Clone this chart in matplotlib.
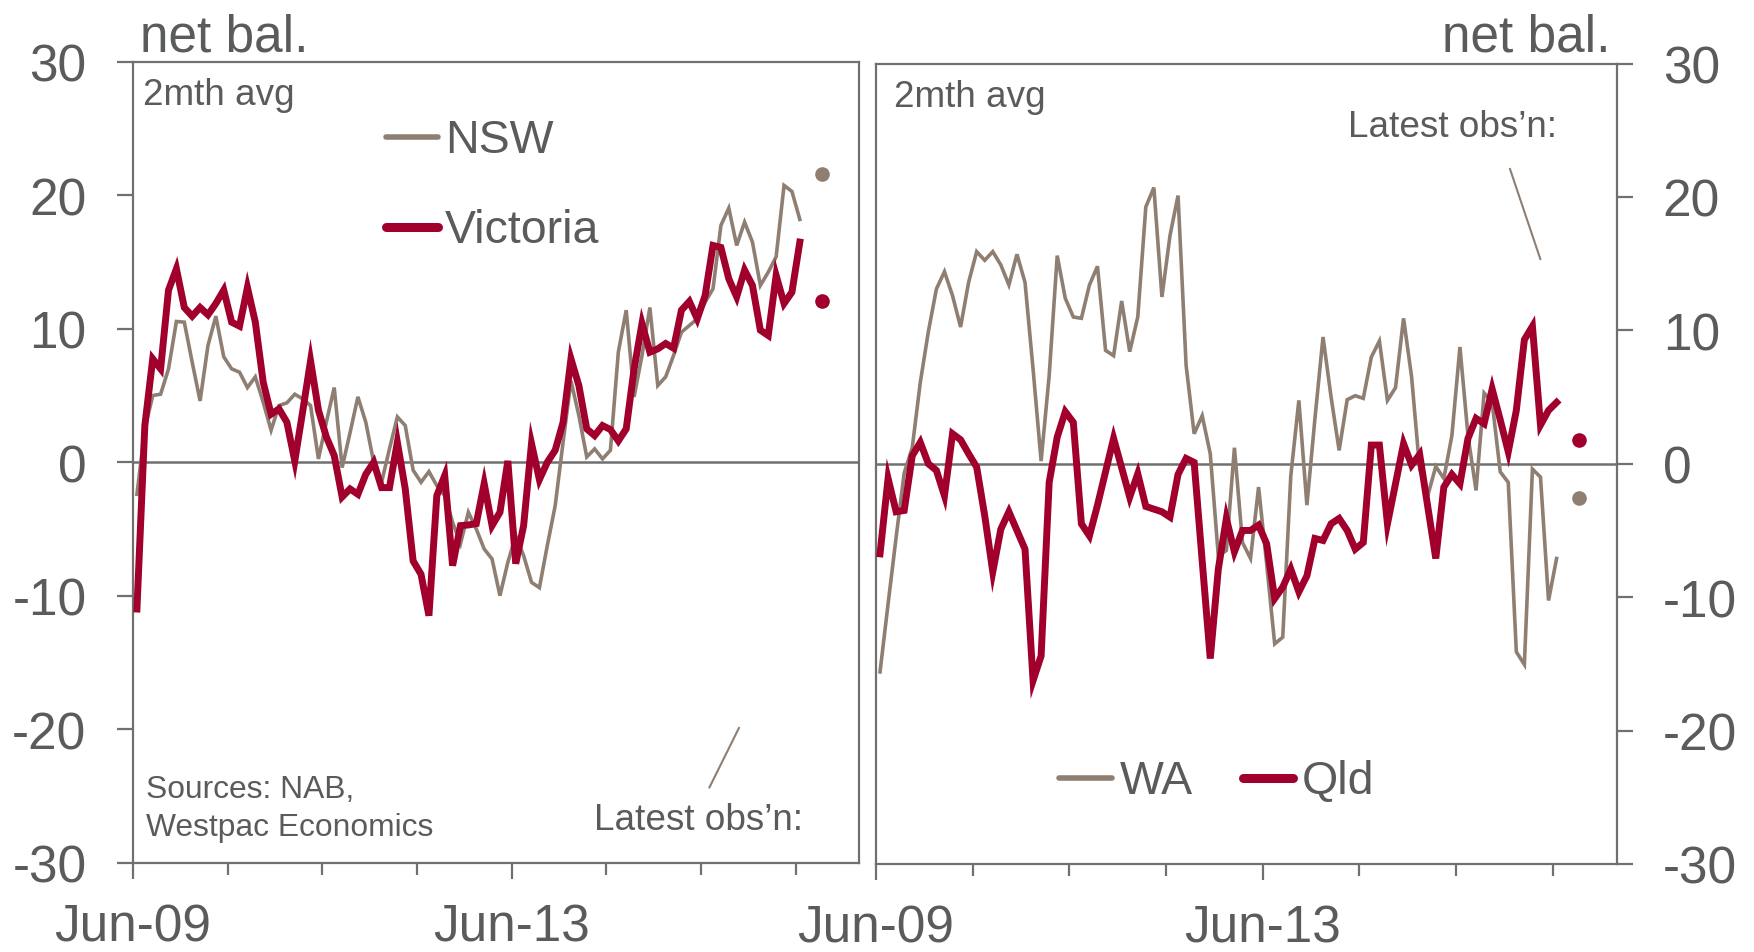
import matplotlib
matplotlib.use("Agg")
import matplotlib.pyplot as plt
from matplotlib.ticker import FixedLocator
import numpy as np

plt.rcParams['font.family'] = ['Liberation Sans', 'DejaVu Sans']
plt.rcParams['axes.unicode_minus'] = False

# ---------------- data (net balance, 2mth avg, monthly from Jun-09) ----------------
NSW = [-2.4, 2.5, 5.0, 5.1, 7.0, 10.55, 10.5, 7.5, 4.6, 8.75,
       10.95, 7.9, 7.0, 6.75, 5.6, 6.4, 4.5, 2.4, 4.25, 4.45,
       5.1, 4.75, 4.25, 0.25, 3.0, 5.6, -0.4, 2.2, 4.9, 3.0,
       0.0, -1.5, 1.0, 3.4, 2.75, -0.6, -1.5, -0.7, -1.75, -2.5,
       -4.5, -6.1, -3.75, -5.0, -6.5, -7.25, -10.0, -7.5, -5.5, -7.0,
       -9.0, -9.4, -6.25, -3.25, 1.5, 6.1, 3.5, 0.4, 1.0, 0.25,
       0.9, 8.25, 11.4, 4.9, 8.0, 11.6, 5.75, 6.4, 8.0, 9.75,
       10.25, 10.75, 12.0, 13.0, 17.75, 19.05, 16.25, 18.0, 16.5, 13.25,
       14.25, 15.4, 20.75, 20.3, 18.2]
VIC = [-11.0, 2.75, 7.75, 7.0, 12.9, 14.5, 11.6, 10.95, 11.6, 11.05,
       11.9, 12.9, 10.5, 10.2, 13.1, 10.5, 6.0, 3.6, 4.0, 3.0,
       0.1, 3.8, 7.6, 3.9, 1.9, 0.5, -2.6, -2.0, -2.4, -0.9,
       0.0, -1.9, -1.9, 1.5, -2.0, -7.4, -8.4, -11.5, -2.5, -1.0,
       -7.75, -4.75, -4.7, -4.6, -1.6, -4.75, -3.75, 0.1, -7.6, -4.75,
       1.4, -1.3, 0.0, 0.9, 3.0, 7.75, 5.75, 2.5, 2.0, 2.75,
       2.45, 1.6, 2.5, 7.0, 10.4, 8.25, 8.5, 8.9, 8.55, 11.4,
       12.05, 10.75, 12.5, 16.25, 16.1, 13.75, 12.4, 14.4, 13.25, 9.9,
       9.5, 14.0, 11.9, 12.75, 16.5]
WA = [-15.6, -10.5, -5.5, -0.7, 1.2, 6.1, 9.9, 13.1, 14.4, 12.6,
      10.25, 13.6, 15.9, 15.25, 15.9, 14.9, 13.4, 15.7, 13.6, 7.1,
      0.2, 6.6, 15.6, 12.4, 11.0, 10.9, 13.4, 14.8, 8.5, 8.1,
      12.2, 8.4, 11.0, 19.25, 20.7, 12.5, 17.1, 20.1, 7.4, 2.25,
      3.6, 0.75, -6.9, -6.5, 1.2, -5.9, -7.1, -1.75, -7.5, -13.5,
      -13.0, -0.9, 4.75, -3.1, 3.4, 9.5, 5.0, 1.0, 4.8, 5.1,
      4.9, 8.0, 9.2, 4.75, 5.7, 10.9, 6.5, -0.4, -2.4, -0.2,
      -1.1, 2.1, 8.75, 2.1, -2.0, 5.3, 4.6, -0.6, -1.4, -14.1,
      -15.05, -0.4, -1.0, -10.25, -7.1]
QLD = [-6.75, -1.1, -3.6, -3.5, 0.6, 1.6, 0.0, -0.5, -2.4, 2.25,
       1.8, 0.75, -0.25, -3.9, -8.1, -4.9, -3.6, -5.0, -6.4, -16.25,
       -14.4, -1.4, 2.0, 3.9, 3.1, -4.5, -5.4, -3.1, -0.6, 1.9,
       -0.3, -2.5, -0.75, -3.2, -3.4, -3.6, -4.0, -0.8, 0.4, 0.1,
       -7.3, -14.6, -7.9, -4.1, -6.6, -5.0, -5.0, -4.6, -6.0, -10.1,
       -9.25, -7.9, -9.6, -8.4, -5.6, -5.75, -4.5, -4.1, -5.0, -6.4,
       -5.9, 1.4, 1.4, -4.5, -1.5, 1.5, -0.1, 0.7, -3.2, -7.1,
       -1.75, -0.8, -1.5, 1.9, 3.4, 3.0, 5.6, 3.3, 0.9, 4.0,
       9.3, 10.3, 2.9, 4.0, 4.6]
LATEST_NSW, LATEST_VIC = 21.6, 12.1
LATEST_WA, LATEST_QLD = -2.6, 1.75

X_TICK_LABELS = ['Jun-09', 'Jun-13']
X_MAJOR = [0, 48]
X_MINOR = [12, 24, 36, 60, 72, 84]
Y_TICKS = [-30, -20, -10, 0, 10, 20, 30]

# ---------------- style ----------------
TAN = '#8E7F72'
RED = '#A0002B'
TXT = '#5A5B5D'
AXC = '#707070'
W, H = 1754, 953

months = np.arange(len(NSW)) + 0.5
dot_x = months[-1] + 2.75

fig = plt.figure(figsize=(W / 100, H / 100), dpi=100)
axL = fig.add_axes([133 / W, (H - 863.5) / H, 726 / W, 800.5 / H])
axR = fig.add_axes([876 / W, (H - 865) / H, 741 / W, 800.5 / H])


def style(ax, side):
    ax.set_xlim(0, 92)
    ax.set_ylim(-30, 30)
    for s in ax.spines.values():
        s.set_color(AXC)
        s.set_linewidth(1.6)
    ax.axhline(0, color=AXC, lw=1.8, zorder=1)
    ax.xaxis.set_major_locator(FixedLocator(X_MAJOR))
    ax.set_xticklabels(X_TICK_LABELS)
    ax.xaxis.set_minor_locator(FixedLocator(X_MINOR))
    ax.tick_params(axis='x', which='major', direction='out', length=11.5,
                   width=1.6, color=AXC, pad=17, labelsize=37, labelcolor=TXT)
    ax.tick_params(axis='x', which='minor', direction='out', length=8.6,
                   width=1.6, color=AXC)
    ax.set_yticks(Y_TICKS)
    if side == 'left':
        ax.tick_params(axis='y', left=True, right=False, labelleft=True,
                       labelright=False, direction='out', length=11.5,
                       width=1.6, color=AXC, pad=22, labelsize=37,
                       labelcolor=TXT)
    else:
        ax.tick_params(axis='y', left=False, right=True, labelleft=False,
                       labelright=True, direction='out', length=11.5,
                       width=1.6, color=AXC, pad=21.5, labelsize=37,
                       labelcolor=TXT)


style(axL, 'left')
style(axR, 'right')

# ---------------- left panel ----------------
axL.plot(months, NSW, color=TAN, lw=2.6, zorder=3, solid_joinstyle='miter')
axL.plot(months, VIC, color=RED, lw=5.0, zorder=4, solid_joinstyle='miter')
axL.plot([dot_x], [LATEST_NSW], 'o', color=TAN, ms=9.5, zorder=5)
axL.plot([dot_x], [LATEST_VIC], 'o', color=RED, ms=9.5, zorder=5)

axL.text(0.0138, 0.9475, '2mth avg', transform=axL.transAxes, fontsize=26.6,
         color=TXT, va='baseline', ha='left')
axL.plot([0.3485, 0.4200], [0.9067, 0.9067], transform=axL.transAxes,
         color=TAN, lw=4, solid_capstyle='round')
axL.text(0.4298, 0.8872, 'NSW', transform=axL.transAxes, fontsize=33.5,
         color=TXT, va='baseline', ha='left')
axL.plot([0.3485, 0.4200], [0.7935, 0.7935], transform=axL.transAxes,
         color=RED, lw=6.5, solid_capstyle='round')
axL.text(0.4298, 0.7748, 'Victoria', transform=axL.transAxes, fontsize=33.5,
         color=TXT, va='baseline', ha='left')
axL.text(0.0173, 0.0818, 'Sources: NAB,', transform=axL.transAxes,
         fontsize=22.9, color=TXT, va='baseline', ha='left')
axL.text(0.0173, 0.0344, 'Westpac Economics', transform=axL.transAxes,
         fontsize=22.9, color=TXT, va='baseline', ha='left')
axL.text(0.635, 0.0418, 'Latest obs\u2019n:', transform=axL.transAxes,
         fontsize=26.6, color=TXT, va='baseline', ha='left')
axL.plot([0.794, 0.8346], [0.0938, 0.168], transform=axL.transAxes,
         color=TAN, lw=1.5)

# ---------------- right panel ----------------
axR.plot(months, WA, color=TAN, lw=2.6, zorder=3, solid_joinstyle='miter')
axR.plot(months, QLD, color=RED, lw=5.0, zorder=4, solid_joinstyle='miter')
axR.plot([dot_x], [LATEST_WA], 'o', color=TAN, ms=9.5, zorder=5)
axR.plot([dot_x], [LATEST_QLD], 'o', color=RED, ms=9.5, zorder=5)

axR.text(0.0247, 0.9475, '2mth avg', transform=axR.transAxes, fontsize=26.6,
         color=TXT, va='baseline', ha='left')
axR.text(0.637, 0.9098, 'Latest obs\u2019n:', transform=axR.transAxes,
         fontsize=26.6, color=TXT, va='baseline', ha='left')
axR.plot([0.8556, 0.8965], [0.8682, 0.7558], transform=axR.transAxes,
         color=TAN, lw=1.5)
axR.plot([0.2476, 0.3180], [0.1077, 0.1077], transform=axR.transAxes,
         color=TAN, lw=4, solid_capstyle='round')
axR.text(0.3291, 0.0887, 'WA', transform=axR.transAxes, fontsize=33.5,
         color=TXT, va='baseline', ha='left')
axR.plot([0.4953, 0.5630], [0.1077, 0.1077], transform=axR.transAxes,
         color=RED, lw=6.5, solid_capstyle='round')
axR.text(0.5742, 0.0887, 'Qld', transform=axR.transAxes, fontsize=33.5,
         color=TXT, va='baseline', ha='left')

# ---------------- axis unit labels ----------------
fig.text(140 / W, 1 - 51.5 / H, 'net bal.', fontsize=37, color=TXT,
         ha='left', va='baseline')
fig.text(1611 / W, 1 - 51.5 / H, 'net bal.', fontsize=37, color=TXT,
         ha='right', va='baseline')

fig.savefig('out.png', dpi=100, facecolor='white')
